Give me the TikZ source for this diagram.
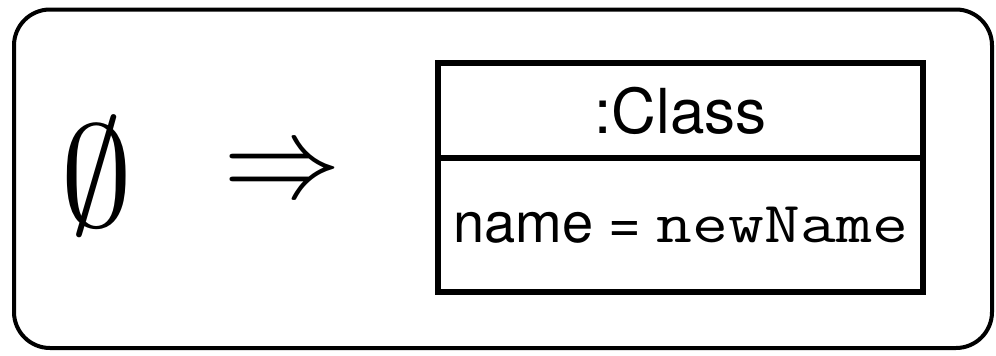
\RequirePackage{fix-cm}
\documentclass[tikz,border=0pt]{standalone}
\usepackage{graphicx}
\usepackage{fontspec}
\setsansfont{TeX Gyre Heros}
\newcommand{\widett}[1]{\scalebox{1.2}[1]{\texttt{#1}}}
\begin{document}
\begin{tikzpicture}[x=1pt,y=-1pt,
  frame/.style={draw,line width=4pt,rounded corners=36pt},
  compartment/.style={draw,line width=6pt,minimum width=485pt,inner sep=0pt,
    outer sep=0pt,font=\sffamily\fontsize{56}{62}\selectfont},
  bigmath/.style={inner sep=0pt}]
  \useasboundingbox (0,0) rectangle (996,356);
  % outer rounded frame
  \draw[frame] (14,9.5) rectangle (992,348);
  % precondition, implication
  \node[bigmath,font=\fontsize{145}{160}\selectfont] (pre) at (97,176) {$\emptyset$};
  \node[bigmath,font=\fontsize{118}{130}\selectfont] (imp) at (282,176) {$\Rightarrow$};
  % object box: header and attribute compartments
  \node[compartment,minimum height=95pt] (head) at (680.5,110.5)
    {\fontsize{62}{68}\selectfont :Class};
  \node[compartment,minimum height=134pt,anchor=north] (body) at (head.south)
    {name = \fontsize{58}{62}\selectfont\widett{newName}};
\end{tikzpicture}
\end{document}
